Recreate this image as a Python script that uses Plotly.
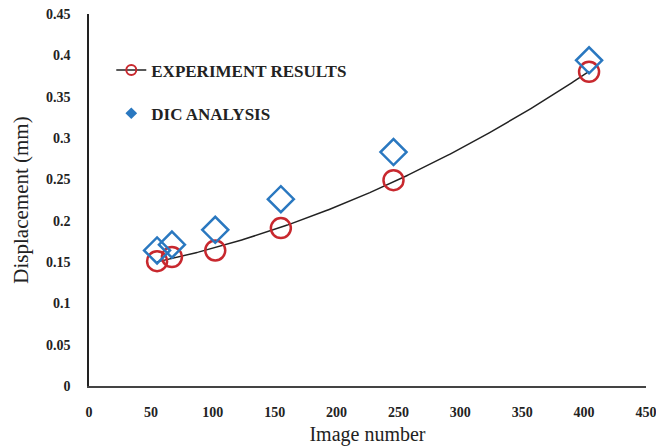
import numpy as np
import plotly.graph_objects as go

image_number = [55, 67, 102, 155, 246, 404]
experiment = [0.151, 0.156, 0.164, 0.191, 0.249, 0.380]
dic = [0.164, 0.171, 0.189, 0.226, 0.283, 0.394]

x_ticks = [0, 50, 100, 150, 200, 250, 300, 350, 400, 450]
y_ticks = [0, 0.05, 0.1, 0.15, 0.2, 0.25, 0.3, 0.35, 0.4, 0.45]

red = "#C8282E"
blue = "#2A78C0"

# polynomial (2nd order) trendline through experiment results
coef = np.polyfit(image_number, experiment, 2)
xf = np.linspace(min(image_number), max(image_number), 200)
yf = np.polyval(coef, xf)

fig = go.Figure()
fig.add_trace(go.Scatter(x=xf, y=yf, mode="lines", line=dict(color="#222222", width=1.5),
                         showlegend=False, hoverinfo="skip"))
fig.add_trace(go.Scatter(x=image_number, y=experiment, mode="markers", showlegend=False,
                         marker=dict(symbol="circle-open", size=20, color=red, line=dict(width=2.5, color=red))))
fig.add_trace(go.Scatter(x=image_number, y=dic, mode="markers", showlegend=False,
                         marker=dict(symbol="diamond-open", size=20, color=blue, line=dict(width=2.5, color=blue))))
# legend entries
fig.add_trace(go.Scatter(x=[None], y=[None], mode="lines+markers", name="EXPERIMENT RESULTS",
                         line=dict(color="#222222", width=1.5),
                         marker=dict(symbol="circle-open", size=10, color=red, line=dict(width=2, color=red)),
                         legend="legend"))
fig.add_trace(go.Scatter(x=[None], y=[None], mode="markers", name="DIC ANALYSIS",
                         marker=dict(symbol="diamond", size=9, color=blue),
                         legend="legend2"))

legfont = dict(family="Liberation Serif", size=17, color="#222222", weight="bold")
fig.update_layout(
    width=656, height=448,
    margin=dict(l=89, r=10, t=14, b=62),
    plot_bgcolor="white", paper_bgcolor="white",
    font=dict(family="Liberation Serif", color="#222222"),
    legend=dict(x=0.04, y=0.848, xanchor="left", yanchor="middle", font=legfont,
                bgcolor="rgba(0,0,0,0)", itemwidth=30),
    legend2=dict(x=0.04, y=0.732, xanchor="left", yanchor="middle", font=legfont,
                 bgcolor="rgba(0,0,0,0)", itemwidth=30),
    xaxis=dict(range=[0, 450], tickvals=x_ticks, ticktext=[str(v) for v in x_ticks],
               showgrid=False, zeroline=False, showline=True, linecolor="#444444", linewidth=1.5,
               ticks="", ticklabelstandoff=12, automargin=False, ticklabeloverflow="allow",
               tickfont=dict(family="Liberation Serif", size=14, color="#222222", weight="bold"),
               title=dict(text="Image number", font=dict(family="Liberation Serif", size=20, color="#222222"),
                          standoff=8)),
    yaxis=dict(range=[0, 0.45], tickvals=y_ticks, ticktext=[f"{v:g}" for v in y_ticks],
               showgrid=False, zeroline=False, showline=True, linecolor="#222222", linewidth=1.5,
               ticks="", ticklabelstandoff=14, automargin=False, ticklabeloverflow="allow",
               tickfont=dict(family="Liberation Serif", size=14, color="#222222", weight="bold"),
               title=dict(text="Displacement (mm)", font=dict(family="Liberation Serif", size=21, color="#222222"),
                          standoff=12)),
)
fig.write_html("out.html")
